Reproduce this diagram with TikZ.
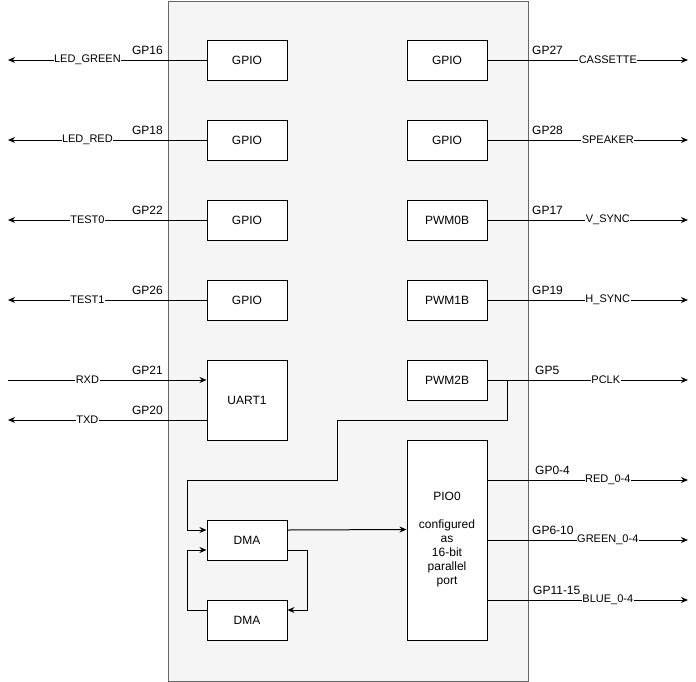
\documentclass[tikz,border=0pt]{standalone}
\usepackage{fontspec}
\setmainfont{Liberation Sans}
\usetikzlibrary{arrows.meta}
\definecolor{chipfill}{HTML}{F5F5F5}
\definecolor{chipline}{HTML}{666666}
\tikzset{
  blk/.style={draw=black, fill=white, line width=1pt, minimum width=80pt, minimum height=40pt, inner sep=0pt, font=\fontsize{12}{14}\selectfont, align=center},
  wire/.style={draw=black, line width=1pt, -{Stealth[length=7pt,width=6pt]}},
  plain/.style={draw=black, line width=1pt},
  lbl/.style={fill=white, inner sep=0.5pt, font=\fontsize{11}{12}\selectfont},
  gpl/.style={font=\fontsize{12}{14}\selectfont, inner sep=0pt, anchor=east},
  gpr/.style={font=\fontsize{12}{14}\selectfont, inner sep=0pt, anchor=west}
}
\begin{document}
\begin{tikzpicture}[x=1pt,y=-1pt]
\useasboundingbox (0,0) rectangle (696,681);
\node[draw=chipline, fill=chipfill, line width=1pt, minimum width=360pt, minimum height=680pt, inner sep=0pt, anchor=north west] (chip) at (167.5,0.5) {};
% left blocks
\node[blk] (g16) at (247,60) {GPIO};
\node[blk] (g18) at (247,140) {GPIO};
\node[blk] (g22) at (247,220) {GPIO};
\node[blk] (g26) at (247,300) {GPIO};
\node[blk, minimum height=80pt] (uart) at (247,400) {UART1};
\node[blk] (dma1) at (247,540) {DMA};
\node[blk] (dma2) at (247,620) {DMA};
% right blocks
\node[blk] (g27) at (447,60) {GPIO};
\node[blk] (g28) at (447,140) {GPIO};
\node[blk] (pwm0) at (447,220) {PWM0B};
\node[blk] (pwm1) at (447,300) {PWM1B};
\node[blk] (pwm2) at (447,380) {PWM2B};
\node[blk, minimum height=200pt] (pio) at (447,540) {PIO0\\[\baselineskip]configured\\as\\16-bit\\parallel\\port};
% end coordinates
\coordinate (eL1) at (8,60);
\coordinate (eL2) at (8,140);
\coordinate (eL3) at (8,220);
\coordinate (eL4) at (8,300);
\coordinate (eRX) at (8,380);
\coordinate (eTX) at (8,420);
\coordinate (eR1) at (688,60);
\coordinate (eR2) at (688,140);
\coordinate (eR3) at (688,220);
\coordinate (eR4) at (688,300);
\coordinate (eR5) at (688,380);
\coordinate (eR6) at (688,480);
\coordinate (eR7) at (688,540);
\coordinate (eR8) at (688,600);
% left wires
\draw[wire] (g16.west) -- node[lbl, pos=0.6] {LED\_GREEN} (eL1);
\draw[wire] (g18.west) -- node[lbl, pos=0.6] {LED\_RED} (eL2);
\draw[wire] (g22.west) -- node[lbl, pos=0.6] {TEST0} (eL3);
\draw[wire] (g26.west) -- node[lbl, pos=0.6] {TEST1} (eL4);
\draw[wire] (eRX) -- node[lbl, pos=0.4] {RXD} (uart.west |- eRX);
\draw[wire] (uart.west |- eTX) -- node[lbl, pos=0.6] {TXD} (eTX);
\node[gpl] (t16) at (163,50) {GP16};
\node[gpl] (t18) at (163,130) {GP18};
\node[gpl] (t22) at (163,210) {GP22};
\node[gpl] (t26) at (163,290) {GP26};
\node[gpl] (t21) at (163,370) {GP21};
\node[gpl] (t20) at (163,410) {GP20};
% right wires
\draw[wire] (g27.east) -- node[lbl, pos=0.6] {CASSETTE} (eR1);
\draw[wire] (g28.east) -- node[lbl, pos=0.6] {SPEAKER} (eR2);
\draw[wire] (pwm0.east) -- node[lbl, pos=0.6] {V\_SYNC} (eR3);
\draw[wire] (pwm1.east) -- node[lbl, pos=0.6] {H\_SYNC} (eR4);
\draw[wire] (pwm2.east) -- node[lbl, pos=0.59] {PCLK} (eR5);
\draw[wire] (pio.east |- eR6) -- node[lbl, pos=0.6] {RED\_0-4} (eR6);
\draw[wire] (pio.east |- eR7) -- node[lbl, pos=0.6] {GREEN\_0-4} (eR7);
\draw[wire] (pio.east |- eR8) -- node[lbl, pos=0.6] {BLUE\_0-4} (eR8);
\node[gpr] (t27) at (532,50) {GP27};
\node[gpr] (t28) at (532,130) {GP28};
\node[gpr] (t17) at (532,210) {GP17};
\node[gpr] (t19) at (532,290) {GP19};
\node[gpr] (t5) at (535,370) {GP5};
\node[gpr] (t04) at (535,470) {GP0-4};
\node[gpr] (t610) at (532,530) {GP6-10};
\node[gpr] (t1115) at (533,590) {GP11-15};
% internal wiring
\coordinate (br) at (507,380);
\draw[wire] (br) -- (507,420) -- (337,420) -- (337,480) -- (187,480) -- (187,530) -- (dma1.west |- 0,530);
\draw[wire] (dma1.east |- 0,530) -- (pio.west |- 0,529.5);
\draw[wire] (dma1.east |- 0,550) -- (307,550) -- (307,610) -- (dma2.east |- 0,610);
\draw[wire] (dma2.west |- 0,610) -- (187,610) -- (187,550) -- (dma1.west |- 0,550);
\end{tikzpicture}
\end{document}
